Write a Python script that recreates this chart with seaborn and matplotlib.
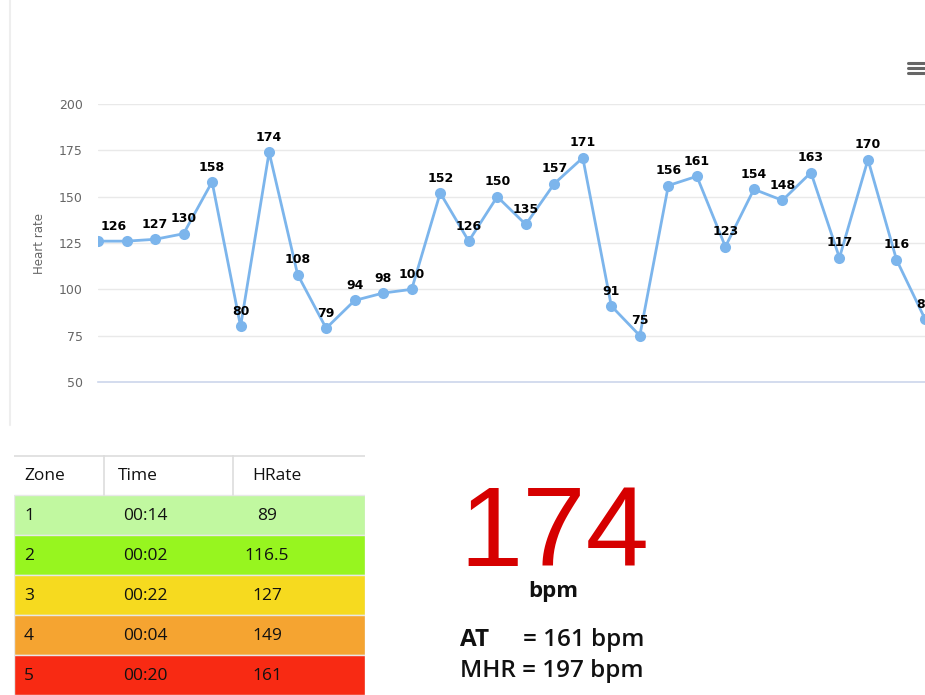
import pandas as pd
import seaborn as sns
import matplotlib.pyplot as plt
from matplotlib.patches import Rectangle
from matplotlib.lines import Line2D

# heart rate samples
heart_rate = [126, 126, 127, 130, 158, 80, 174, 108, 79, 94, 98, 100, 152, 126,
              150, 135, 157, 171, 91, 75, 156, 161, 123, 154, 148, 163, 117,
              170, 116, 84]
y_ticks = [50, 75, 100, 125, 150, 175, 200]
hidden_labels = [1]  # label hidden in the original because it overlaps

# zone table
zones = ["1", "2", "3", "4", "5"]
times = ["00:14", "00:02", "00:22", "00:04", "00:20"]
hrates = ["89", "116.5", "127", "149", "161"]
zone_colors = ["#c1f8a0", "#97f51f", "#f6da1f", "#f5a431", "#f82a13"]

current_bpm = "174"
at_bpm = 161
mhr_bpm = 197

sns.set_style("white")
plt.rcParams['font.family'] = ['Liberation Sans', 'DejaVu Sans']

W, H = 925, 695
fig = plt.figure(figsize=(W / 100, H / 100), dpi=100)

# ---- line chart ----
ax = fig.add_axes([98 / W, 1 - 382 / H, 1 - 98 / W, (382 - 104) / H])
df = pd.DataFrame({"idx": range(len(heart_rate)), "hr": heart_rate})
sns.lineplot(data=df, x="idx", y="hr", ax=ax, color="#7cb5ec", linewidth=2,
             marker="o", markersize=8, markeredgewidth=0, clip_on=True)
ax.set_xlim(0, len(heart_rate) - 1)
ax.set_ylim(50, 200)
ax.set_yticks(y_ticks)
ax.set_xticks([])
ax.set_xlabel("")
ax.set_ylabel("Heart rate", color="#666666", fontsize=8.5,
              family=["DejaVu Sans"], labelpad=9)
ax.tick_params(axis="y", length=0, pad=11, labelcolor="#666666", labelsize=9)
for lab in ax.get_yticklabels():
    lab.set_family(["DejaVu Sans"])
for y in y_ticks[1:]:
    ax.axhline(y, color="#e9e9e9", linewidth=1, zorder=0)
for s in ["top", "right", "left"]:
    ax.spines[s].set_visible(False)
ax.spines["bottom"].set_color("#ccd6eb")
ax.spines["bottom"].set_linewidth(1.2)

for i, v in enumerate(heart_rate):
    if i in hidden_labels:
        continue
    ax.annotate(str(v), (i, v), xytext=(2 if i == 0 else 0, 6),
                textcoords="offset points",
                ha="left" if i == 0 else "center", va="bottom",
                fontsize=9, fontweight="bold", color="black",
                family=["DejaVu Sans"], annotation_clip=False)

# hamburger menu
for dy in (63, 68, 73):
    fig.add_artist(Line2D([908 / W, 924 / W], [1 - dy / H, 1 - dy / H],
                          color="#666666", linewidth=2.2))
# left border of chart panel
fig.add_artist(Line2D([10 / W, 10 / W], [1 - 425 / H, 1.0],
                      color="#eeeeee", linewidth=1.5))

# ---- zone table ----
tx0, tx1, ty0 = 14, 365, 455
tab = fig.add_axes([tx0 / W, 0, (tx1 - tx0) / W, (H - ty0) / H])
tw, th = tx1 - tx0, H - ty0
tab.set_xlim(0, tw)
tab.set_ylim(th, 0)
tab.axis("off")
tab.plot([0, tw], [0.5, 0.5], color="#dddddd", linewidth=1.2)
for xs in (90, 219):
    tab.plot([xs, xs], [0, 40], color="#dddddd", linewidth=1.2)
col_x = [10, 104, 238]
for x, name in zip(col_x, ["Zone", "Time", "HRate"]):
    tab.text(x, 21, name, fontsize=12.5, va="center", ha="left",
             family=["Open Sans", "DejaVu Sans"], color="#111111")
row_h = 40
for r in range(len(zones)):
    top = 40 + r * row_h
    tab.add_patch(Rectangle((0, top), tw, row_h, facecolor=zone_colors[r],
                            edgecolor="#e8e8e8", linewidth=1))
    yc = top + row_h / 2 + 1
    tab.text(10, yc, zones[r], fontsize=12.5, va="center", ha="left",
             family=["Open Sans", "DejaVu Sans"], color="#111111")
    tab.text(109, yc, times[r], fontsize=12.5, va="center", ha="left",
             family=["Open Sans", "DejaVu Sans"], color="#111111")
    tab.text(253, yc, hrates[r], fontsize=12.5, va="center", ha="center",
             family=["Open Sans", "DejaVu Sans"], color="#111111")

# ---- current value ----
fig.text(554 / W, 1 - 566 / H, current_bpm, fontsize=82, color="#d60000",
         ha="center", va="baseline", family=["Liberation Sans"])
fig.text(553 / W, 1 - 592 / H, "bpm", fontsize=16, fontweight="bold",
         ha="center", va="center", family=["Open Sans", "DejaVu Sans"],
         color="#111111")
fig.text(460 / W, 1 - 640 / H, "AT", fontsize=17.5, fontweight="bold",
         ha="left", va="center", family=["Open Sans", "DejaVu Sans"],
         color="#111111")
fig.text(523 / W, 1 - 640 / H, f"= {at_bpm} bpm", fontsize=17.5,
         fontweight="semibold", ha="left", va="center",
         family=["Open Sans", "DejaVu Sans"], color="#111111")
fig.text(460 / W, 1 - 671 / H, f"MHR = {mhr_bpm} bpm", fontsize=17.5,
         fontweight="semibold", ha="left", va="center",
         family=["Open Sans", "DejaVu Sans"], color="#111111")

fig.savefig("out.png", dpi=100)
